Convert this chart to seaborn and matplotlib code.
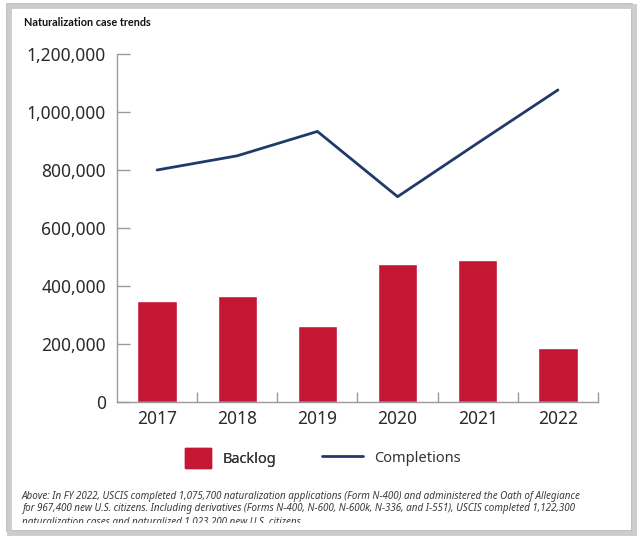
import pandas as pd
import numpy as np
import matplotlib
matplotlib.use("Agg")
import matplotlib.pyplot as plt
import matplotlib.patches as mpatches
from matplotlib.lines import Line2D
from matplotlib.ticker import FuncFormatter, FixedLocator
import seaborn as sns

# dados
anos = ["2017", "2018", "2019", "2020", "2021", "2022"]
backlog = [348000, 364000, 263000, 475000, 491000, 187000]
completions = [800000, 849000, 933000, 708000, 893000, 1076000]

titulo = "Naturalization case trends"
rodape = [
    "Above: In FY 2022, USCIS completed 1,075,700 naturalization applications (Form N-400) and administered the Oath of Allegiance",
    "for 967,400 new U.S. citizens. Including derivatives (Forms N-400, N-600, N-600k, N-336, and I-551), USCIS completed 1,122,300",
    "naturalization cases and naturalized 1,023,200 new U.S. citizens.",
]

df = pd.DataFrame({"ano": anos, "backlog": backlog, "completions": completions})

sns.set_style("white")
plt.rcParams["font.family"] = ["Noto Sans", "DejaVu Sans"]

vermelho = "#C41734"
azul = "#1F3B6B"
cinza = "#9a9a9a"

fig = plt.figure(figsize=(6.41, 5.41), dpi=100)
ax = fig.add_axes([117 / 641, 1 - 402 / 541, (598 - 117) / 641, (402 - 54) / 541])

sns.barplot(data=df, x="ano", y="backlog", color=vermelho, width=0.49,
            saturation=1, ax=ax)
sns.lineplot(data=df, x="ano", y="completions", color=azul, linewidth=2,
             ax=ax, sort=False)

ax.set_xlim(-0.5, len(anos) - 0.5)
ax.set_ylim(0, 1200000)
ax.set_yticks(np.arange(0, 1200001, 200000))
ax.yaxis.set_major_formatter(FuncFormatter(lambda v, p: f"{int(v):,}"))
ax.set_xlabel("")
ax.set_ylabel("")

# ticks das fronteiras entre categorias
ax.xaxis.set_minor_locator(FixedLocator(np.arange(0.5, len(anos), 1.0)))
ax.tick_params(axis="x", which="major", bottom=True, length=0, labelsize=12.5,
               colors="#2a2a2a", pad=6)
ax.tick_params(axis="x", which="minor", bottom=True, length=7, direction="in",
               color=cinza, width=1)
ax.tick_params(axis="y", which="major", left=True, length=9, direction="in",
               color=cinza, width=1, labelsize=12.5, labelcolor="#2a2a2a", pad=8)

sns.despine(ax=ax)
for s in ["left", "bottom"]:
    ax.spines[s].set_color(cinza)
    ax.spines[s].set_linewidth(1)

# legenda
fs = 10.5
h1 = mpatches.Patch(color=vermelho, label="Backlog")
h2 = Line2D([], [], color=azul, linewidth=2, label="Completions")
leg1 = fig.legend(handles=[h1], loc="center left", bbox_to_anchor=(185 / 641, 1 - 458 / 541),
                  frameon=False, fontsize=fs, handlelength=1.75, handleheight=1.75,
                  handletextpad=0.85, borderpad=0, borderaxespad=0, labelcolor="#333333")
leg2 = fig.legend(handles=[h2], loc="center left", bbox_to_anchor=(322 / 641, 1 - 458 / 541),
                  frameon=False, fontsize=fs, handlelength=2.8,
                  handletextpad=0.75, borderpad=0, borderaxespad=0, labelcolor="#333333")
fig.add_artist(leg1)

# moldura
sombra = mpatches.Rectangle((9 / 641, 1 - 533 / 541), (632 - 7) / 641, (531 - 4) / 541,
                            transform=fig.transFigure, facecolor="none",
                            edgecolor="#cccccc", linewidth=3.5, zorder=9)
moldura = mpatches.Rectangle((7 / 641, 1 - 531 / 541), (632 - 7) / 641, (531 - 4) / 541,
                             transform=fig.transFigure, facecolor="white",
                             edgecolor="#b5b5b5", linewidth=1.2, zorder=-5)
fig.patches.extend([sombra, moldura])
corte = mpatches.Rectangle((7 / 641, 1 - 523 / 541), (632 - 7) / 641, (523 - 4) / 541,
                           transform=fig.transFigure, visible=False)
fig.patches.append(corte)

fig.text(24 / 641, 1 - 23 / 541, titulo, fontsize=7.8, fontweight="bold",
         family=["Lato", "DejaVu Sans"], color="#111111", va="center", ha="left")

for i, linha in enumerate(rodape):
    t = fig.text(22 / 641, 1 - (496 + i * 13) / 541, linha, fontsize=7.1,
                 style="italic", color="#3a3a3a", va="center", ha="left")
    t.set_clip_path(corte)

fig.savefig("out.png", dpi=100)
